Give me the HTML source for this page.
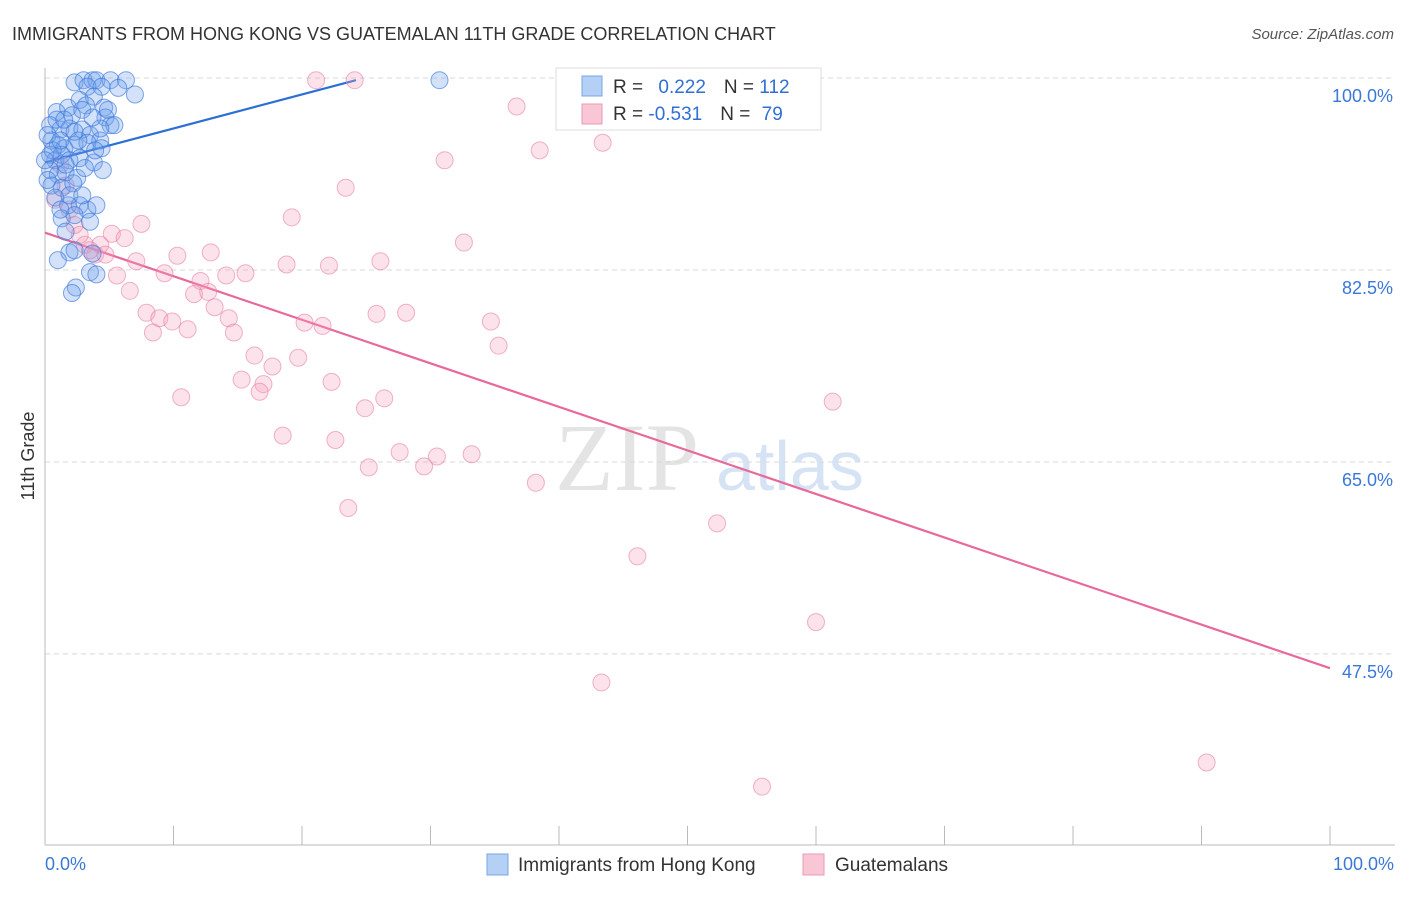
<!DOCTYPE html>
<html><head><meta charset="utf-8"><style>
body{margin:0;background:#fff;font-family:"Liberation Sans",sans-serif;}
</style></head><body>
<svg width="1406" height="892" xmlns="http://www.w3.org/2000/svg">
<text x="12" y="40" font-size="18" fill="#333">IMMIGRANTS FROM HONG KONG VS GUATEMALAN 11TH GRADE CORRELATION CHART</text>
<text x="1394" y="39" font-size="15" fill="#555" font-style="italic" text-anchor="end">Source: ZipAtlas.com</text>
<text x="0" y="0" transform="translate(34,456) rotate(-90)" font-size="18" fill="#333" text-anchor="middle">11th Grade</text>
<g><text x="555" y="490" font-size="96" font-family="Liberation Serif,serif" fill="#e4e4e4">ZIP</text><text x="716" y="490" font-size="70" fill="#d5e3f5">atlas</text></g>
<g id="grid"></g><g id="axes"></g><g id="lines"></g><g id="pts"></g>
<g>
<rect x="556" y="68" width="265" height="62" fill="#fff" stroke="#ddd"/>
<rect x="582" y="76" width="20" height="20" fill="#b5d0f5" stroke="#7aa6e6"/>
<rect x="582" y="104" width="20" height="20" fill="#f9c6d6" stroke="#eb9bb5"/>
<text x="613" y="93" font-size="19" fill="#333">R = <tspan fill="#2f6fd6" dx="10">0.222</tspan><tspan fill="#333" dx="18">N = </tspan><tspan fill="#2f6fd6">112</tspan></text>
<text x="613" y="120" font-size="19" fill="#333">R = <tspan fill="#2f6fd6">-0.531</tspan><tspan fill="#333" dx="18">N = </tspan><tspan fill="#2f6fd6" dx="6">79</tspan></text>
</g>
<g>
<rect x="487" y="854" width="21" height="21" fill="#b5d0f5" stroke="#7aa6e6"/>
<text x="518" y="871" font-size="19" fill="#333">Immigrants from Hong Kong</text>
<rect x="803" y="854" width="21" height="21" fill="#f9c6d6" stroke="#eb9bb5"/>
<text x="835" y="871" font-size="19" fill="#333">Guatemalans</text>
</g>
<text x="45" y="870" font-size="18" fill="#3a78d8">0.0%</text>
<text x="1394" y="870" font-size="18" fill="#3a78d8" text-anchor="end">100.0%</text>
</svg>
<script>
const NS="http://www.w3.org/2000/svg";
const yTicks=[100,82.5,65,47.5];
const yTickLabels=["100.0%","82.5%","65.0%","47.5%"];
const blueX=[2.3,3.0,3.7,4.0,5.1,6.3,3.3,4.4,5.7,7.0,3.8,0.9,1.8,2.7,3.2,4.6,2.1,2.9,4.7,5.1,5.4,0.4,1.2,1.9,2.9,3.5,4.3,0.5,1.0,1.5,2.3,3.3,4.4,0.4,0.8,1.3,1.9,2.7,3.8,4.5,0.4,1.0,1.6,2.5,0.5,1.3,2.2,0.8,1.8,2.7,3.3,4.0,1.3,2.3,3.5,1.6,1.9,1.0,2.3,3.7,3.5,4.0,2.4,2.1,30.7,0.2,0.6,1.6,3.1,0,1.2,2.6,3.9,0.2,1.9,2.9,1.2,4.3,4.9,3.7,0.9,1.5,2.3];
const blueY=[99.6,99.8,99.8,99.8,99.8,99.8,99.2,99.2,99.1,98.5,98.3,96.9,97.3,98.0,97.5,97.3,96.6,97.1,96.4,95.7,95.7,95.7,95.3,95.4,95.3,94.8,94.3,94.3,93.9,93.6,93.9,94.1,93.6,93.0,92.5,93.0,92.5,92.7,92.3,91.6,91.6,91.2,91.4,90.9,90.2,90.0,90.4,89.1,88.4,88.4,88.0,88.4,87.2,87.5,86.9,86.0,84.1,83.4,84.3,84.0,82.3,82.1,80.9,80.4,99.8,94.8,93.4,92.1,91.8,92.5,94.3,94.3,93.4,90.7,89.3,89.3,88.0,95.4,97.1,96.4,96.2,96.2,95.1];
const pinkX=[21.1,24.1,58.5,36.7,31.1,38.5,43.4,23.4,19.2,7.5,32.6,5.2,6.2,4.3,10.3,12.9,7.1,14.1,15.6,18.8,22.1,26.1,9.3,12.1,5.6,6.6,11.6,12.7,13.2,7.9,8.9,9.9,8.4,11.1,14.3,14.7,25.8,28.1,20.2,21.6,34.7,35.3,16.3,19.7,17.7,15.3,17.0,16.7,22.3,10.6,26.4,24.9,61.3,18.5,22.6,27.6,30.5,33.2,29.5,25.2,38.2,23.6,52.3,46.1,60.0,43.3,90.4,55.8,1.9,2.3,3.1,3.9,4.7,1.2,1.6,0.8,2.7,3.5];
const pinkY=[99.8,99.8,99.8,97.4,92.5,93.4,94.1,90.0,87.3,86.7,85.0,85.8,85.4,84.8,83.8,84.1,83.3,82.0,82.2,83.0,82.9,83.3,82.2,81.5,82.0,80.6,80.3,80.5,79.1,78.6,78.1,77.8,76.8,77.1,78.1,76.8,78.5,78.6,77.7,77.4,77.8,75.6,74.7,74.5,73.7,72.5,72.1,71.4,72.3,70.9,70.8,69.9,70.5,67.4,67.0,65.9,65.5,65.7,64.6,64.5,63.1,60.8,59.4,56.4,50.4,44.9,37.6,35.4,88.0,86.6,84.8,83.9,83.9,92.1,90.2,88.9,85.7,84.3];
const blueTrend=[0,92.3,24.2,99.8];
const pinkTrend=[0,85.9,100,46.2];
const xs=v=>45+v*12.85, ys=v=>78+(100-v)*10.97;
function mk(tag,attrs,parent){const e=document.createElementNS(NS,tag);for(const k in attrs)e.setAttribute(k,attrs[k]);document.getElementById(parent).appendChild(e);return e;}
yTicks.forEach((t,i)=>{
 const l=mk('line',{x1:45,x2:1395,y1:ys(t),y2:ys(t),stroke:'#d8d8d8','stroke-dasharray':'5,4'},'grid');
 
 
 const tx=mk('text',{x:1393,y:ys(t)+24,'font-size':18,fill:'#3a78d8','text-anchor':'end'},'grid');
 tx.textContent=yTickLabels[i];
 
 
});
const ax=mk('line',{x1:45,x2:45,y1:68,y2:845,stroke:'#bbb'},'axes');


const bx=mk('line',{x1:45,x2:1395,y1:845,y2:845,stroke:'#bbb'},'axes');


for(let i=0;i<=10;i++){const t=mk('line',{x1:xs(i*10),x2:xs(i*10),y1:826,y2:845,stroke:'#bbb'},'axes');
 
 }
pinkX.forEach((x,i)=>{const c=mk('circle',{cx:xs(x),cy:ys(pinkY[i]),r:8.5,fill:'rgba(244,160,190,0.3)',stroke:'rgba(230,130,165,0.6)','stroke-width':1},'pts');
 
 });
blueX.forEach((x,i)=>{const c=mk('circle',{cx:xs(x),cy:ys(blueY[i]),r:8.5,fill:'rgba(110,160,235,0.3)',stroke:'rgba(60,120,220,0.65)','stroke-width':1},'pts');
 
 });
const bl=mk('line',{x1:xs(blueTrend[0]),y1:ys(blueTrend[1]),x2:xs(blueTrend[2]),y2:ys(blueTrend[3]),stroke:'#2a6fd6','stroke-width':2.2},'lines');


const pl=mk('line',{x1:xs(pinkTrend[0]),y1:ys(pinkTrend[1]),x2:xs(pinkTrend[2]),y2:ys(pinkTrend[3]),stroke:'#e8689a','stroke-width':2.2},'lines');


</script>
</body></html>
